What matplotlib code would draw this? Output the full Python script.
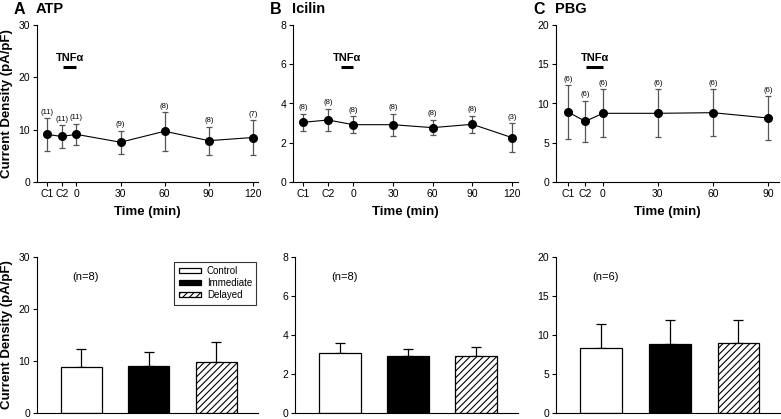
import numpy as np
from matplotlib import pyplot as plt
from matplotlib.patches import Patch

plt.rcParams['font.family'] = ['Liberation Sans', 'DejaVu Sans']
plt.rcParams['hatch.linewidth'] = 0.8

# time course data (x positions of C1, C2 in "minutes")
tickLabelsA = ['C1', 'C2', '0', '30', '60', '90', '120']
timeA = [-20, -10, 0, 30, 60, 90, 120]
meanA = [9.1, 8.7, 9.1, 7.6, 9.7, 7.9, 8.5]
errA = [3.1, 2.2, 2.05, 2.2, 3.7, 2.7, 3.3]
nA = ['(11)', '(11)', '(11)', '(9)', '(8)', '(8)', '(7)']

tickLabelsB = ['C1', 'C2', '0', '30', '60', '90', '120']
timeB = [-38, -19, 0, 30, 60, 90, 120]
meanB = [3.04, 3.16, 2.92, 2.92, 2.77, 2.94, 2.26]
errB = [0.45, 0.57, 0.42, 0.57, 0.40, 0.44, 0.74]
nB = ['(8)', '(8)', '(8)', '(8)', '(8)', '(8)', '(3)']

tickLabelsC = ['C1', 'C2', '0', '30', '60', '90']
timeC = [-19, -9.5, 0, 30, 60, 90]
meanC = [8.92, 7.73, 8.75, 8.75, 8.83, 8.15]
errC = [3.4, 2.65, 3.05, 3.05, 3.0, 2.8]
nC = ['(6)', '(6)', '(6)', '(6)', '(6)', '(6)']

# summary bars
groups = ['Control', 'Immediate', 'Delayed']
barA = [8.9, 9.1, 9.9]
barErrA = [3.4, 2.6, 3.8]
barB = [3.08, 2.91, 2.93]
barErrB = [0.50, 0.39, 0.48]
barC = [8.31, 8.82, 8.95]
barErrC = [3.04, 3.04, 3.0]

fig = plt.figure(figsize=(7.81, 4.19), dpi=100)
W, H = 781, 419

def ax_at(x0, x1, ytop, ybot):
    return fig.add_axes([x0/W, 1-ybot/H, (x1-x0)/W, (ybot-ytop)/H])

def style(ax):
    ax.spines['top'].set_visible(False)
    ax.spines['right'].set_visible(False)
    ax.tick_params(direction='out', length=3, width=0.8, labelsize=7.5, pad=2)

tops = [
    (37, 258, timeA, meanA, errA, nA, tickLabelsA, 30, 10, (-26.8, 123.5), 'A', 'ATP'),
    (293, 518, timeB, meanB, errB, nB, tickLabelsB, 8, 2, (-45.5, 124.5), 'B', 'Icilin'),
    (556, 779, timeC, meanC, errC, nC, tickLabelsC, 20, 5, (-25.5, 96), 'C', 'PBG'),
]
for x0, x1, t, m, e, n, lab, ymax, ystep, xl, letter, name in tops:
    ax = ax_at(x0, x1, 25, 182)
    style(ax)
    ax.errorbar(t, m, yerr=e, fmt='o', color='black', ms=5.5,
                ecolor='#555555', elinewidth=0.9, capsize=2.5, capthick=0.9, zorder=3)
    ax.plot(t, m, color='black', lw=0.8, zorder=2)
    for ti, mi, ei, ni in zip(t, m, e, n):
        ax.text(ti, mi + ei + ymax*0.015, ni, ha='center', va='bottom', fontsize=5.5)
    ax.set_ylim(0, ymax)
    ax.set_yticks(np.arange(0, ymax + 0.1, ystep))
    ax.set_xlim(*xl)
    ax.set_xticks(t)
    ax.set_xticklabels(lab)
    ax.plot([-9, 0], [ymax*0.733, ymax*0.733], color='black', lw=2.2, solid_capstyle='butt')
    ax.text(-4.5, ymax*0.76, 'TNF\u03b1', ha='center', va='bottom', fontsize=8, fontweight='bold')
    ax.set_xlabel('Time (min)', fontsize=9.5, fontweight='bold', labelpad=5)
    fig.text((x0 - 23)/W, 1 - 9/H, letter, fontsize=11.5, fontweight='bold', va='center')
    fig.text((x0 - 1)/W, 1 - 9/H, name, fontsize=10.5, fontweight='bold', va='center')
    if letter == 'A':
        ax.set_ylabel('Current Density (pA/pF)', fontsize=9.5, fontweight='bold', labelpad=4)

bots = [
    (37, 258, barA, barErrA, 30, 10, '(n=8)'),
    (295, 518, barB, barErrB, 8, 2, '(n=8)'),
    (556, 781, barC, barErrC, 20, 5, '(n=6)'),
]
xpos = np.arange(1, 4)
for i, (x0, x1, v, e, ymax, ystep, ntxt) in enumerate(bots):
    ax = ax_at(x0, x1, 257, 413)
    style(ax)
    ax.bar(xpos, v, width=0.61, color=['white', 'black', 'white'], edgecolor='black',
           linewidth=0.9, hatch=['', '', '/////'], zorder=2)
    ax.errorbar(xpos, v, yerr=[np.zeros(3), e], fmt='none', ecolor='black',
                elinewidth=0.9, capsize=3.5, capthick=0.9, zorder=1)
    ax.set_ylim(0, ymax)
    ax.set_yticks(np.arange(0, ymax + 0.1, ystep))
    ax.set_xlim(0.34, 3.62)
    ax.set_xticks([])
    ax.text(0.22, 0.87, ntxt, transform=ax.transAxes, fontsize=8, ha='center', va='center')
    if i == 0:
        ax.set_ylabel('Current Density (pA/pF)', fontsize=9.5, fontweight='bold', labelpad=4)
        handles = [Patch(facecolor='white', edgecolor='black', lw=0.9),
                   Patch(facecolor='black', edgecolor='black', lw=0.9),
                   Patch(facecolor='white', edgecolor='black', lw=0.9, hatch='/////')]
        leg = ax.legend(handles, groups, loc='upper right', bbox_to_anchor=(1.015, 1.0),
                        fontsize=7, frameon=True, fancybox=False, handlelength=2.3,
                        handleheight=0.45, borderpad=0.45, labelspacing=0.2, handletextpad=0.6)
        leg.get_frame().set_edgecolor('black')
        leg.get_frame().set_linewidth(0.8)

fig.savefig('out.png', dpi=100)
